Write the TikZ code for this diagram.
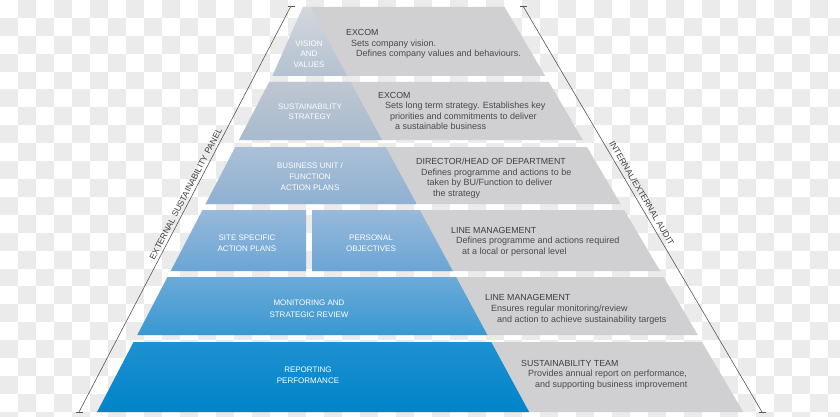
\documentclass[tikz,border=0pt]{standalone}
\usepackage{fontspec}
\setmainfont{Liberation Sans}
\definecolor{chk}{HTML}{EBEBEB}
\definecolor{bandgray}{HTML}{D0D0D2}
\definecolor{txtdark}{HTML}{3E3E40}
\definecolor{txtbody}{HTML}{4A4A4C}
\definecolor{linegray}{HTML}{555555}
\definecolor{bOneT}{HTML}{D3D7DD}\definecolor{bOneB}{HTML}{B3C1D1}
\definecolor{bTwoT}{HTML}{BEC7D2}\definecolor{bTwoB}{HTML}{A8BACE}
\definecolor{bThrT}{HTML}{ABC0D6}\definecolor{bThrB}{HTML}{8FB0D2}
\definecolor{bFouT}{HTML}{98B9DA}\definecolor{bFouB}{HTML}{6AA5D5}
\definecolor{bFivT}{HTML}{6CAAD8}\definecolor{bFivB}{HTML}{3898D1}
\definecolor{bSixT}{HTML}{1E91D1}\definecolor{bSixB}{HTML}{0084C8}
\tikzset{
  head/.style={anchor=base west,inner sep=0pt,text=txtdark,font=\fontsize{8.8}{10}\selectfont},
  body/.style={anchor=base west,inner sep=0pt,text=txtbody,font=\fontsize{9}{10}\selectfont},
  wlab/.style={anchor=base,inner sep=0pt,text=white,font=\fontsize{8}{9}\selectfont},
  sidelab/.style={inner sep=1.5pt,text=txtdark,font=\fontsize{8.6}{9}\selectfont},
  sideline/.style={draw=linegray,line width=0.6pt},
}
\begin{document}
\begin{tikzpicture}[x=1pt,y=-1pt]
\useasboundingbox (0,0) rectangle (840,417);
% checkerboard background
\fill[white] (0,0) rectangle (840,417);
\foreach \i in {0,...,46}{
  \foreach \j in {0,...,23}{
    \pgfmathtruncatemacro{\chkpar}{mod(\i+\j,2)}
    \ifnum\chkpar=1 \fill[chk] (\i*18,\j*17.9) rectangle ++(18,17.9);\fi
  }
}
% band 1
\fill[bandgray] (303,7) -- (504.6,7) -- (545.2,76) -- (272.5,76) -- cycle;
\path[top color=bOneT,bottom color=bOneB] (303,7) -- (310,7) -- (347.3,76) -- (272.5,76) -- cycle;
% band 2
\fill[bandgray] (269.3,82) -- (548.8,82) -- (582.9,140) -- (239.0,140) -- cycle;
\path[top color=bTwoT,bottom color=bTwoB] (269.3,82) -- (350.6,82) -- (382.0,140) -- (239.0,140) -- cycle;
% band 3
\fill[bandgray] (235.4,147) -- (587.0,147) -- (620.6,204) -- (205.6,204) -- cycle;
\path[top color=bThrT,bottom color=bThrB] (235.4,147) -- (385.7,147) -- (416.6,204) -- (205.6,204) -- cycle;
% band 4
\fill[bandgray] (312,210) -- (624.2,210) -- (660.1,271) -- (312,271) -- cycle;
\path[top color=bFouT,bottom color=bFouB] (202.5,210) -- (306,210) -- (306,271) -- (170.7,271) -- cycle;
\path[top color=bFouT,bottom color=bFouB] (312,210) -- (419.8,210) -- (452.8,271) -- (312,271) -- cycle;
% band 5
\fill[bandgray] (167.5,277) -- (663.6,277) -- (697.8,335) -- (137.3,335) -- cycle;
\path[top color=bFivT,bottom color=bFivB] (167.5,277) -- (456.1,277) -- (487.4,335) -- (137.3,335) -- cycle;
% band 6
\fill[bandgray] (133.6,342) -- (702.0,342) -- (743.2,412) -- (97.1,412) -- cycle;
\path[top color=bSixT,bottom color=bSixB] (133.6,342) -- (491.2,342) -- (529.1,412) -- (97.1,412) -- cycle;

% white labels
\node[wlab] (v1) at (309,46.5) {VISION};
\node[wlab] (v2) at (309,57) {AND};
\node[wlab] (v3) at (309,67.5) {VALUES};
\node[wlab] (s1) at (310,109.5) {SUSTAINABILITY};
\node[wlab] (s2) at (310,120) {STRATEGY};
\node[wlab] (u1) at (310,168.5) {BUSINESS UNIT /};
\node[wlab] (u2) at (310,179.5) {FUNCTION};
\node[wlab] (u3) at (310,190.5) {ACTION PLANS};
\node[wlab] (p1) at (247,240.5) {SITE SPECIFIC};
\node[wlab] (p2) at (247,251) {ACTION PLANS};
\node[wlab] (o1) at (371,240.5) {PERSONAL};
\node[wlab] (o2) at (371,251) {OBJECTIVES};
\node[wlab] (m1) at (309,305.5) {MONITORING AND};
\node[wlab] (m2) at (309,317.5) {STRATEGIC REVIEW};
\node[wlab] (r1) at (308,372.5) {REPORTING};
\node[wlab] (r2) at (308,383.5) {PERFORMANCE};

% right texts
\node[head] (h1) at (346,36) {EXCOM};
\node[body] (t11) at (351,46.5) {Sets company vision.};
\node[body] (t12) at (356,57) {Defines company values and behaviours.};

\node[head] (h2) at (378,99) {EXCOM};
\node[body] (t21) at (385,109) {Sets long term strategy. Establishes key};
\node[body] (t22) at (390,119.5) {priorities and commitments to deliver};
\node[body] (t23) at (395,130) {a sustainable business};

\node[head] (h3) at (416,164) {DIRECTOR/HEAD OF DEPARTMENT};
\node[body] (t31) at (421,175) {Defines programme and actions to be};
\node[body] (t32) at (427,185.5) {taken by BU/Function to deliver};
\node[body] (t33) at (433,196) {the strategy};

\node[head] (h4) at (451,233) {LINE MANAGEMENT};
\node[body] (t41) at (456,243.5) {Defines programme and actions required};
\node[body] (t42) at (462,254) {at a local or personal level};

\node[head] (h5) at (485,300) {LINE MANAGEMENT};
\node[body] (t51) at (491,311) {Ensures regular monitoring/review};
\node[body] (t52) at (497,322) {and action to achieve sustainability targets};

\node[head] (h6) at (521,366) {SUSTAINABILITY TEAM};
\node[body] (t61) at (528,376.5) {Provides annual report on performance,};
\node[body] (t62) at (535,387) {and supporting business improvement};

% side lines
\coordinate (la) at (79,412);
\coordinate (lb) at (291,6);
\coordinate (ra) at (523,6);
\coordinate (rb) at (762,412);
\draw[sideline] (la) -- node[sidelab,pos=0.53,sloped,above=1.5pt] (ltxt) {EXTERNAL SUSTAINABILITY PANEL} (lb);
\draw[sideline] (ra) -- node[sidelab,pos=0.47,sloped,above=2.5pt] (rtxt) {INTERNAL/EXTERNAL AUDIT} (rb);
\draw[sideline] ([xshift=-3.5]la) -- ([xshift=3.5]la);
\draw[sideline] ([xshift=-3.5]lb) -- ([xshift=3.5]lb);
\draw[sideline] ([xshift=-3.5]ra) -- ([xshift=3.5]ra);
\draw[sideline] ([xshift=-3.5]rb) -- ([xshift=3.5]rb);
\end{tikzpicture}
\end{document}
